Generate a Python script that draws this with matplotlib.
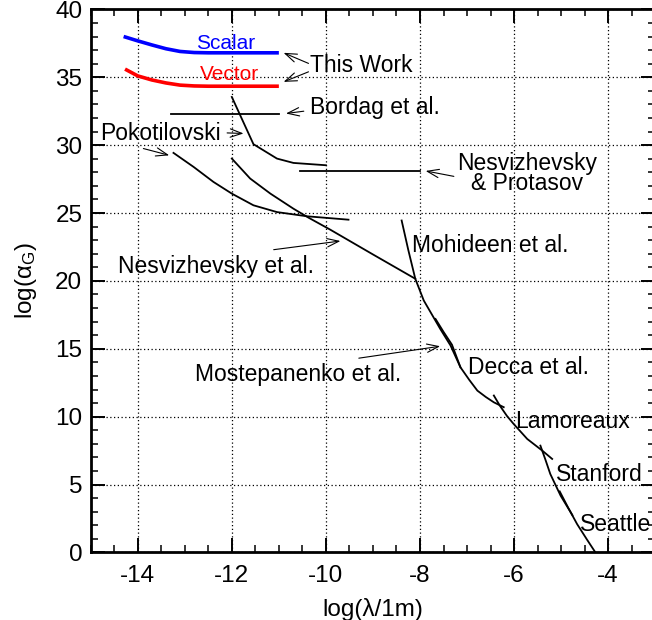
# Limites sobre alpha_G em função de lambda
import numpy as np
import matplotlib.pyplot as plt
from matplotlib.ticker import MultipleLocator

plt.rcParams['font.family'] = ['Liberation Sans', 'DejaVu Sans']
plt.rcParams['mathtext.fontset'] = 'custom'
plt.rcParams['mathtext.rm'] = 'Liberation Sans'
plt.rcParams['mathtext.it'] = 'Liberation Sans:italic'
plt.rcParams['axes.unicode_minus'] = False

# Curvas deste trabalho
scalar_x = [-14.3, -14.0, -13.7, -13.4, -13.1, -12.8, -12.5, -11.0]
scalar_y = [38.0, 37.68, 37.38, 37.1, 36.9, 36.82, 36.8, 36.8]
vector_x = [-14.27, -14.0, -13.7, -13.4, -13.1, -12.8, -12.5, -11.0]
vector_y = [35.6, 35.1, 34.8, 34.58, 34.42, 34.36, 34.34, 34.34]

# Outros experimentos (linhas pretas)
bordag_x = [-13.3, -11.0]
bordag_y = [32.26, 32.26]
pok1_x = [-12.0, -11.54, -11.04, -10.69, -10.0]
pok1_y = [33.55, 30.07, 29.01, 28.69, 28.52]
pok2_x = [-13.24, -12.81, -12.39, -12.0, -11.54, -11.04, -10.4, -9.52]
pok2_y = [29.43, 28.39, 27.29, 26.43, 25.57, 25.07, 24.76, 24.51]
protasov_x = [-10.56, -7.99]
protasov_y = [28.12, 28.12]
nesv_x = [-12.0, -11.61, -11.18, -10.69, -10.37, -9.91, -9.0, -8.1]
nesv_y = [29.01, 27.54, 26.43, 25.32, 24.66, 23.78, 21.95, 20.16]
mohideen_x = [-8.39, -8.25, -8.1, -7.92, -7.57, -7.35, -7.14]
mohideen_y = [24.45, 22.3, 20.16, 18.56, 16.47, 15.24, 13.64]
decca_x = [-7.67, -7.5, -7.32, -7.14, -6.95, -6.78, -6.6, -6.43, -6.22]
decca_y = [17.2, 16.25, 15.3, 13.64, 12.7, 11.92, 11.45, 11.06, 10.7]
lamoreaux_x = [-6.43, -6.3, -6.15, -6.01, -5.72, -5.4, -5.19]
lamoreaux_y = [11.56, 10.8, 10.05, 9.47, 8.36, 7.5, 6.89]
stanford_x = [-5.44, -5.33, -5.23, -5.01, -4.76]
stanford_y = [7.87, 6.8, 5.78, 4.18, 2.75]
seattle_x = [-5.03, -4.85, -4.66, -4.45, -4.27]
seattle_y = [4.5, 3.3, 2.09, 0.95, 0.0]

fig = plt.figure(figsize=(6.52, 6.20), dpi=100)
ax = fig.add_axes([0.1391, 0.1089, 0.8658, 0.876])

ax.plot(scalar_x, scalar_y, color='#0000ff', lw=2.6, solid_capstyle='butt')
ax.plot(vector_x, vector_y, color='#ff0000', lw=2.6, solid_capstyle='butt')
for xs, ys in [(bordag_x, bordag_y), (pok1_x, pok1_y), (pok2_x, pok2_y),
               (protasov_x, protasov_y), (nesv_x, nesv_y),
               (mohideen_x, mohideen_y), (decca_x, decca_y),
               (lamoreaux_x, lamoreaux_y), (stanford_x, stanford_y),
               (seattle_x, seattle_y)]:
    ax.plot(xs, ys, color='k', lw=1.3)

# Textos
fs = 16.5
ax.text(-12.13, 37.05, 'Scalar', color='#0000ff', fontsize=15, ha='center', va='baseline')
ax.text(-12.06, 34.79, 'Vector', color='#ff0000', fontsize=15, ha='center', va='baseline')
ax.text(-10.33, 35.4, 'This Work', fontsize=fs, va='baseline')
ax.text(-10.33, 32.3, 'Bordag et al.', fontsize=fs, va='baseline')
ax.text(-14.79, 30.41, 'Pokotilovski', fontsize=fs, va='baseline')
ax.text(-5.72, 26.3, 'Nesvizhevsky\n& Protasov', fontsize=fs, ha='center',
        va='bottom', multialignment='center', linespacing=0.88)
ax.text(-8.17, 22.12, 'Mohideen et al.', fontsize=fs, va='baseline')
ax.text(-14.41, 20.58, 'Nesvizhevsky et al.', fontsize=fs, va='baseline')
ax.text(-12.78, 12.66, 'Mostepanenko et al.', fontsize=fs, va='baseline')
ax.text(-6.98, 13.16, 'Decca et al.', fontsize=fs, va='baseline')
ax.text(-5.97, 9.17, 'Lamoreaux', fontsize=fs, va='baseline')
ax.text(-5.10, 5.29, 'Stanford', fontsize=fs, va='baseline')
ax.text(-4.60, 1.55, 'Seattle', fontsize=fs, va='baseline')

# Setas
setas = [((-10.37, 36.02), (-10.90, 36.80)),
         ((-10.37, 35.40), (-10.90, 34.66)),
         ((-10.47, 32.50), (-10.85, 32.33)),
         ((-12.10, 30.90), (-11.75, 30.86)),
         ((-13.88, 29.75), (-13.33, 29.25)),
         ((-7.28, 27.70), (-7.88, 28.10)),
         ((-11.11, 22.30), (-9.69, 22.94)),
         ((-9.30, 14.31), (-7.57, 15.19))]
for ini, fim in setas:
    ax.annotate('', xy=fim, xytext=ini,
                arrowprops=dict(arrowstyle='->,head_length=0.7,head_width=0.25',
                                lw=0.8, color='k', shrinkA=0, shrinkB=0,
                                mutation_scale=12))

ax.set_xlim(-15, -3)
ax.set_ylim(0, 40)
ax.xaxis.set_major_locator(MultipleLocator(2))
ax.xaxis.set_minor_locator(MultipleLocator(0.5))
ax.yaxis.set_major_locator(MultipleLocator(5))
ax.yaxis.set_minor_locator(MultipleLocator(1))
ax.tick_params(which='both', direction='in', top=True, right=True, labelsize=17.5)
ax.tick_params(which='major', length=10, width=1.4)
ax.tick_params(which='minor', length=5, width=1.1)
ax.tick_params(axis='x', pad=9)
ax.tick_params(axis='y', pad=6)
for s in ax.spines.values():
    s.set_linewidth(2)
ax.grid(True, which='major', color='k', linestyle=(0, (1, 2)), lw=0.9)

ax.set_xlabel('log(λ/1m)', fontsize=17.5, labelpad=8)
ax.set_ylabel('log(α$_{\\rm G}$)', fontsize=17.5, labelpad=12)

fig.savefig('out.png', dpi=100)
